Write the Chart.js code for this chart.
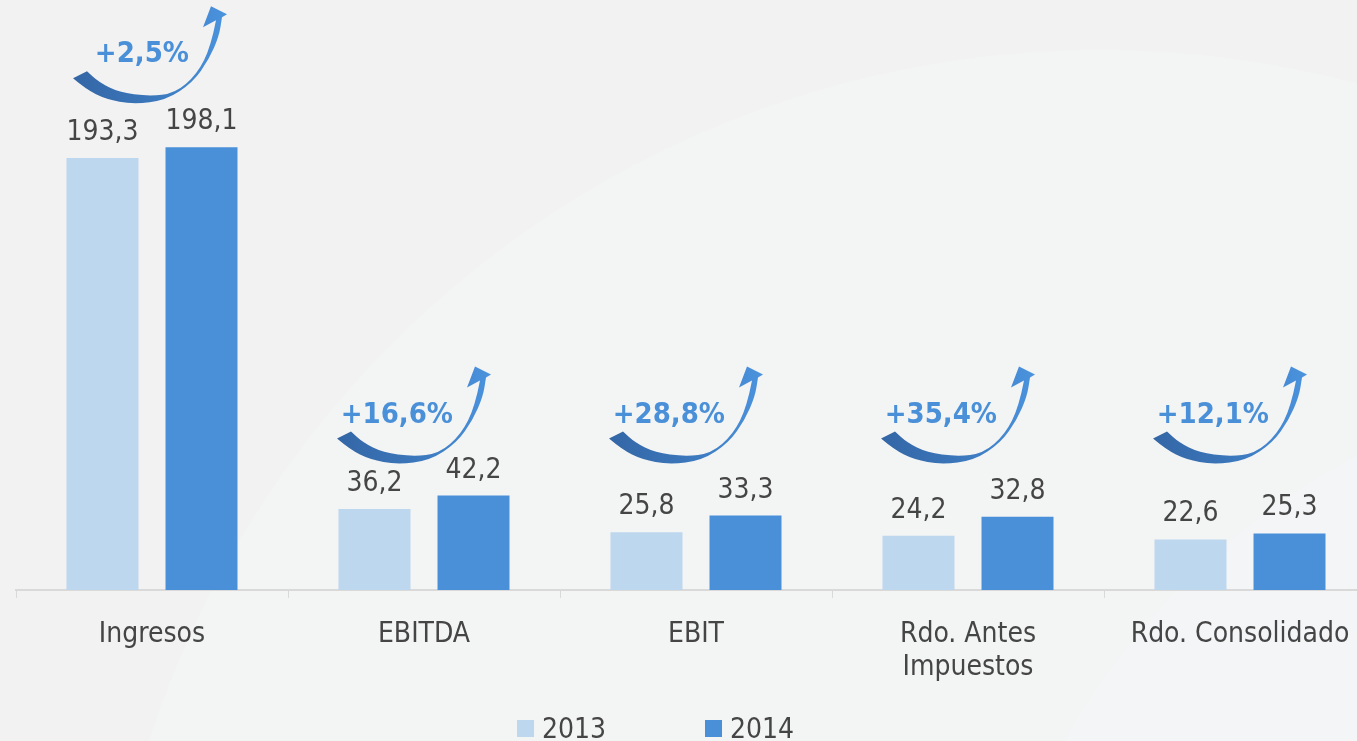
<!DOCTYPE html>
<html>
<head>
<meta charset="utf-8">
<script src="https://cdn.jsdelivr.net/npm/chart.js@4.4.0/dist/chart.umd.min.js"></script>
<style>
html, body { margin: 0; padding: 0; overflow: hidden; background: #f2f2f2; }
#wrap { position: relative; width: 1357px; height: 741px; overflow: hidden; }
canvas { position: absolute; left: 0; top: 0; }
</style>
</head>
<body>
<div id="wrap"><canvas id="resChart" width="1400" height="741"></canvas></div>
<script>
// datos (millones)
var categories = ["Ingresos", "EBITDA", "EBIT", ["Rdo. Antes", "Impuestos"], "Rdo. Consolidado"];
var values2013 = [193.3, 36.2, 25.8, 24.2, 22.6];
var values2014 = [198.1, 42.2, 33.3, 32.8, 25.3];
var growthLabels = ["+2,5%", "+16,6%", "+28,8%", "+35,4%", "+12,1%"];
var seriesNames = ["2013", "2014"];

var FONT = "'DejaVu Sans Condensed', 'DejaVu Sans', sans-serif";
var colLight = '#bdd7ee';
var colDark = '#4a90d9';
var textCol = '#454545';

function fmt(v) {
    return v.toFixed(1).replace('.', ',');
}

// background with the faint big arcs
var bgPlugin = {
    id: 'bg',
    beforeDraw: function (chart) {
        var ctx = chart.ctx;
        ctx.save();
        ctx.fillStyle = '#f2f2f2';
        ctx.fillRect(0, 0, chart.width, chart.height);
        ctx.beginPath();
        ctx.arc(1100, 1050, 1000, 0, Math.PI * 2);
        ctx.fillStyle = '#f3f4f4';
        ctx.fill();
        ctx.beginPath();
        ctx.arc(1700, 1100, 730, 0, Math.PI * 2);
        ctx.fillStyle = '#f4f5f7';
        ctx.fill();
        ctx.restore();
    }
};

// curved "growth" arrow, shape
var outerEdge = [[-87, -26], [-74, -15], [-54, -5], [-27, 0], [6, -4], [33, -22], [49, -45], [59, -68], [62, -87]];
var innerEdge = [[56, -84], [51, -58], [37, -30], [15, -11], [-11, -8], [-41, -12], [-61, -22], [-73, -33]];

function smoothTo(ctx, pts) {
    for (var k = 1; k < pts.length - 1; k++) {
        var mx = (pts[k][0] + pts[k + 1][0]) / 2;
        var my = (pts[k][1] + pts[k + 1][1]) / 2;
        ctx.quadraticCurveTo(pts[k][0], pts[k][1], mx, my);
    }
    ctx.lineTo(pts[pts.length - 1][0], pts[pts.length - 1][1]);
}

function drawArrow(ctx, cx, by) {
    ctx.save();
    ctx.translate(cx, by);
    var g = ctx.createLinearGradient(-87, 0, 65, 0);
    g.addColorStop(0, '#3466a6');
    g.addColorStop(0.5, '#3a76ba');
    g.addColorStop(1, '#4b93de');
    ctx.fillStyle = g;
    ctx.beginPath();
    ctx.moveTo(outerEdge[0][0], outerEdge[0][1]);
    smoothTo(ctx, outerEdge);
    ctx.lineTo(67, -90);
    ctx.lineTo(51, -98);
    ctx.lineTo(43, -77);
    ctx.lineTo(innerEdge[0][0], innerEdge[0][1]);
    smoothTo(ctx, innerEdge);
    ctx.closePath();
    ctx.fill();
    ctx.restore();
}

// value labels + growth arrows
var labelPlugin = {
    id: 'labels',
    afterDatasetsDraw: function (chart) {
        var ctx = chart.ctx;
        var yScale = chart.scales.y;
        var xScale = chart.scales.x;
        ctx.save();
        ctx.font = '28px ' + FONT;
        ctx.fillStyle = textCol;
        ctx.textAlign = 'center';
        ctx.textBaseline = 'alphabetic';
        chart.data.datasets.forEach(function (ds, di) {
            chart.getDatasetMeta(di).data.forEach(function (bar, i) {
                ctx.fillText(fmt(ds.data[i]), bar.x, bar.y - 18);
            });
        });

        var floorLevel = Math.max.apply(null, values2014.slice(1));
        for (var i = 0; i < categories.length; i++) {
            var level = Math.max(values2013[i], values2014[i], floorLevel);
            // the first arrow sits a bit higher/right on the slide
            var cx = xScale.getPixelForValue(i) + (i === 0 ? 8 : 0);
            var by = yScale.getPixelForValue(level) - (i === 0 ? 43 : 31);
            drawArrow(ctx, cx, by);
            ctx.font = 'bold 29px ' + FONT;
            ctx.fillStyle = colDark;
            ctx.textAlign = 'right';
            ctx.fillText(growthLabels[i], cx + 29, by - 42);
        }
        ctx.restore();
    }
};

// legend at the bottom
var legendPlugin = {
    id: 'bottomLegend',
    afterDraw: function (chart) {
        var ctx = chart.ctx;
        var colors = [colLight, colDark];
        ctx.save();
        ctx.font = '28px ' + FONT;
        ctx.textBaseline = 'alphabetic';
        ctx.textAlign = 'left';
        var x = (chart.chartArea.left + chart.chartArea.right) / 2 - 179;
        for (var i = 0; i < seriesNames.length; i++) {
            ctx.fillStyle = colors[i];
            ctx.fillRect(x, 720, 17, 17);
            ctx.fillStyle = textCol;
            ctx.fillText(seriesNames[i], x + 25, 738);
            x += 188;
        }
        ctx.restore();
    }
};

var ctxRes = document.getElementById("resChart").getContext('2d');

var resChart = new Chart(ctxRes, {
    type: 'bar',
    data: {
        labels: categories,
        datasets: [{
            label: seriesNames[0],
            data: values2013,
            backgroundColor: colLight,
            categoryPercentage: 0.728,
            barPercentage: 0.727
        }, {
            label: seriesNames[1],
            data: values2014,
            backgroundColor: colDark,
            categoryPercentage: 0.728,
            barPercentage: 0.727
        }]
    },
    options: {
        responsive: false,
        animation: false,
        layout: {
            padding: { left: 16, right: 24, top: 0, bottom: 37 }
        },
        plugins: {
            legend: { display: false },
            tooltip: { enabled: false }
        },
        scales: {
            x: {
                grid: {
                    display: true,
                    drawOnChartArea: false,
                    drawTicks: true,
                    tickLength: 8,
                    color: '#d9d9d9',
                    offset: true
                },
                border: { color: '#d9d9d9', width: 2 },
                ticks: {
                    color: textCol,
                    font: { family: FONT, size: 28, lineHeight: 1.18 },
                    padding: 20,
                    maxRotation: 0,
                    autoSkip: false
                }
            },
            y: {
                display: false,
                min: 0,
                max: 264
            }
        }
    },
    plugins: [bgPlugin, labelPlugin, legendPlugin]
});
</script>
</body>
</html>
